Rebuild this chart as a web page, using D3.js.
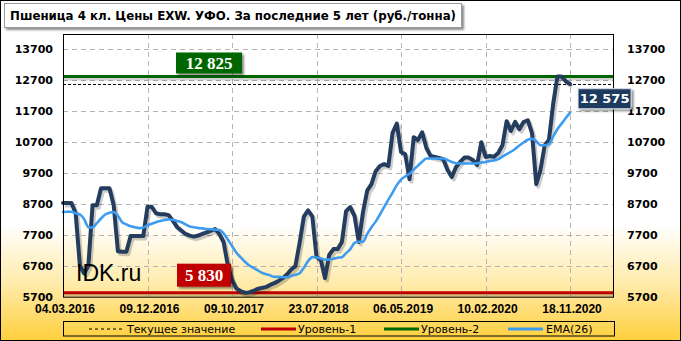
<!DOCTYPE html>
<html>
<head>
<meta charset="utf-8">
<script src="https://cdn.jsdelivr.net/npm/d3@7"></script>
<style>
  body { margin: 0; }
  svg { display: block; }
</style>
</head>
<body>
<svg id="chart" width="681" height="341"></svg>
<script>
// --- data ---
const dateLabels = ["04.03.2016", "09.12.2016", "09.10.2017", "23.07.2018", "06.05.2019", "10.02.2020", "18.11.2020"];
const labelStep = 20; // one date label every 20 points

const price = [
    8730, 8730, 8730, 8400, 6700, 6450, 6700, 8660, 8660, 9210,
    9210, 9210, 8660, 7170, 7155, 7155, 7660, 7660, 7660, 7660,
    8610, 8610, 8400, 8370, 8370, 8340, 8160, 7950, 7840, 7730,
    7675, 7645, 7680, 7730, 7780, 7840, 7890, 7730, 7470, 6725,
    6240, 5970, 5885, 5830, 5840, 5885, 5950, 5980, 6010, 6080,
    6140, 6210, 6300, 6420, 6580, 6690, 7440, 8290, 8490, 8300,
    6990, 6890, 6300, 7050, 7240, 7240, 7470, 8470, 8600, 8310,
    7470, 8440, 9130, 9340, 9760, 9930, 9990, 9930, 11000, 11300,
    10380, 10310, 9500, 10860, 10770, 11020, 10510, 10250, 10220, 10190,
    10150, 9800, 9570, 9890, 10060, 10200, 10200, 10120, 9960, 10700,
    10220, 10250, 10230, 10350, 10600, 11380, 11060, 11360, 11120, 11350,
    11410, 10990, 9340, 9800, 10600, 10770, 11930, 12825, 12825, 12670,
    12575
];

const ema = [
    8440, 8450, 8450, 8400, 8360, 8210, 7950, 7940, 8080, 8230,
    8360, 8420, 8440, 8320, 8110, 8040, 7980, 7950, 7920, 7940,
    8010, 8060, 8110, 8150, 8180, 8200, 8190, 8150, 8110, 8040,
    7970, 7950, 7920, 7910, 7890, 7880, 7870, 7860, 7750, 7550,
    7340, 7130, 6980, 6840, 6720, 6640, 6560, 6480, 6430, 6390,
    6340, 6340, 6330, 6330, 6370, 6410, 6460, 6640, 6850, 6980,
    6970, 6940, 6900, 6900, 6930, 6960, 6980, 7110, 7240, 7440,
    7480, 7480, 7730, 7950, 8130, 8360, 8600, 8840, 9070, 9310,
    9490, 9590, 9680, 9810, 9940, 10070, 10170, 10170, 10170, 10170,
    10170, 10120, 10060, 10020, 10010, 10010, 10010, 10010, 10020, 10040,
    10060, 10090, 10110, 10150, 10230, 10310, 10390, 10480, 10590, 10690,
    10780, 10810, 10730, 10600, 10600, 10640, 10880, 11120, 11300, 11480,
    11655
];

const level1 = 5830;   // Уровень-1
const level2 = 12825;  // Уровень-2
const current = 12575; // Текущее значение
const yTicks = [5700, 6700, 7700, 8700, 9700, 10700, 11700, 12700, 13700];

const fmt = v => d3.format(",")(v).replace(/,/g, " ");

const W = 681, H = 341;
const svg = d3.select("#chart");
const defs = svg.append("defs");

// background gradient (white -> yellow at the bottom)
const bg = defs.append("linearGradient").attr("id", "bg")
    .attr("x1", 0).attr("y1", 0).attr("x2", 0).attr("y2", 1);
bg.append("stop").attr("offset", "0").attr("stop-color", "#ffffff");
bg.append("stop").attr("offset", "0.66").attr("stop-color", "#ffffff");
bg.append("stop").attr("offset", "0.84").attr("stop-color", "#ffeaa6");
bg.append("stop").attr("offset", "1").attr("stop-color", "#ffcf3c");

const shadow = defs.append("filter").attr("id", "shadow")
    .attr("x", "-20%").attr("y", "-20%").attr("width", "150%").attr("height", "160%");
shadow.append("feDropShadow").attr("dx", 2).attr("dy", 2).attr("stdDeviation", 1.2)
    .attr("flood-color", "#000").attr("flood-opacity", 0.45);

svg.append("rect").attr("x", 0.5).attr("y", 0.5).attr("width", W - 1).attr("height", H - 1)
    .attr("fill", "url(#bg)").attr("stroke", "#000");

// plot area
const plotLeft = 63, plotRight = 614, plotTop = 34, plotBottom = 296.7;
const x = d3.scaleLinear().domain([0, 130.4]).range([plotLeft, plotRight]);
const y = d3.scaleLinear().domain([5700, 14200]).range([plotBottom, plotTop]);
const xTicks = dateLabels.map((d, i) => i * labelStep);

// grid
const grid = svg.append("g").attr("stroke", "#b4b4b4").attr("stroke-dasharray", "5,4").attr("stroke-width", 1);
grid.selectAll(".gy").data(yTicks.filter(t => t > 5700)).join("line")
    .attr("x1", plotLeft).attr("x2", plotRight)
    .attr("y1", d => Math.round(y(d)) + 0.5).attr("y2", d => Math.round(y(d)) + 0.5);
grid.selectAll(".gx").data(xTicks.filter(t => t > 0)).join("line")
    .attr("y1", plotTop).attr("y2", plotBottom)
    .attr("x1", d => Math.round(x(d)) + 0.5).attr("x2", d => Math.round(x(d)) + 0.5);

// level lines
function levelLine(val, color, width) {
    svg.append("line").attr("x1", plotLeft).attr("x2", plotRight)
        .attr("y1", y(val) + 2.5).attr("y2", y(val) + 2.5)
        .attr("stroke", "#000").attr("stroke-opacity", 0.18).attr("stroke-width", width);
    svg.append("line").attr("x1", plotLeft).attr("x2", plotRight)
        .attr("y1", y(val)).attr("y2", y(val))
        .attr("stroke", color).attr("stroke-width", width);
}
levelLine(level2, "#006600", 3);
levelLine(level1, "#c00000", 3);

// current value dashed line
svg.append("line").attr("x1", plotLeft).attr("x2", plotRight)
    .attr("y1", Math.round(y(current)) + 0.5).attr("y2", Math.round(y(current)) + 0.5)
    .attr("stroke", "#000").attr("stroke-width", 1).attr("stroke-dasharray", "3,2");

// price line + shadow
const line = d3.line().x((d, i) => x(i)).y(d => y(d));
svg.append("path").datum(price).attr("d", line)
    .attr("transform", "translate(2,2.5)")
    .attr("fill", "none").attr("stroke", "#000").attr("stroke-opacity", 0.2)
    .attr("stroke-width", 4).attr("stroke-linejoin", "round");
svg.append("path").datum(price).attr("d", line)
    .attr("fill", "none").attr("stroke", "#243d5e")
    .attr("stroke-width", 4).attr("stroke-linejoin", "round").attr("stroke-linecap", "round");

// EMA line
svg.append("path").datum(ema).attr("d", line.curve(d3.curveMonotoneX))
    .attr("fill", "none").attr("stroke", "#3d9cf0")
    .attr("stroke-width", 2.6).attr("stroke-linejoin", "round").attr("stroke-linecap", "round");

// frame
svg.append("rect").attr("x", plotLeft + 0.5).attr("y", plotTop + 0.5)
    .attr("width", plotRight - plotLeft - 1).attr("height", plotBottom - plotTop)
    .attr("fill", "none").attr("stroke", "#000");

// axes
const yFont = "'DejaVu Sans', Verdana, sans-serif";
const yLeft = svg.append("g").attr("transform", `translate(${plotLeft},0)`)
    .call(d3.axisLeft(y).tickValues(yTicks).tickSize(0).tickPadding(10).tickFormat(d3.format("d")));
const yRight = svg.append("g").attr("transform", `translate(${plotRight},0)`)
    .call(d3.axisRight(y).tickValues(yTicks).tickSize(0).tickPadding(13).tickFormat(d3.format("d")));
[yLeft, yRight].forEach(g => {
    g.select(".domain").remove();
    g.selectAll("text").attr("font-family", yFont).attr("font-size", 11)
        .attr("font-weight", "bold").attr("fill", "#000");
});

const xAxis = svg.append("g").attr("transform", `translate(1.5,${plotBottom})`)
    .call(d3.axisBottom(x).tickValues(xTicks).tickSize(0).tickPadding(8)
        .tickFormat(d => dateLabels[d / labelStep]));
xAxis.select(".domain").remove();
xAxis.selectAll("text").attr("font-family", "'Liberation Sans', Arial, sans-serif")
    .attr("font-size", 12).attr("font-weight", "bold").attr("fill", "#000");

// value tags
function tag(cx, cy, w, h, fill, text, font, size, bordered) {
    const g = svg.append("g");
    g.append("rect").attr("x", cx).attr("y", cy).attr("width", w).attr("height", h)
        .attr("fill", fill).attr("filter", "url(#shadow)")
        .attr("stroke", bordered ? "#d8dde6" : "none").attr("stroke-width", bordered ? 1 : 0);
    g.append("text").attr("x", cx + w / 2).attr("y", cy + h / 2).attr("dy", "0.36em")
        .attr("text-anchor", "middle").attr("fill", "#fff").attr("font-weight", "bold")
        .attr("font-family", font).attr("font-size", size).text(text);
}
const serif = "'Liberation Serif', 'Times New Roman', serif";
tag(176, y(level2) - 24, 66, 21, "#006600", fmt(level2), serif, 17);
tag(177, y(level1) - 29, 54, 23, "#c00000", fmt(level1), serif, 17);
tag(x(price.length - 1) + 8, y(current) + 4.5, 53, 20, "#1f3a5f", fmt(current), yFont, 13, true);

// watermark
svg.append("text").attr("x", 76).attr("y", 281)
    .attr("font-family", "'Liberation Sans', Arial, sans-serif").attr("font-size", 23)
    .attr("fill", "#000").text("IDK.ru");

// title box
svg.append("rect").attr("x", 4.5).attr("y", 3.5).attr("width", 457).attr("height", 24)
    .attr("fill", "#fff").attr("stroke", "#9a9a9a").attr("filter", "url(#shadow)");
svg.append("text").attr("x", 10).attr("y", 20)
    .attr("font-family", yFont).attr("font-size", 12).attr("font-weight", "bold")
    .attr("textLength", 446).attr("lengthAdjust", "spacingAndGlyphs")
    .attr("fill", "#000")
    .text("Пшеница  4 кл. Цены EXW. УФО. За последние 5 лет (руб./тонна)");

// legend
const legend = svg.append("g");
legend.append("rect").attr("x", 63.5).attr("y", 321.5).attr("width", 551).attr("height", 14.5)
    .attr("fill", "none").attr("stroke", "#000");
const legendItems = [
    { label: "Текущее значение", color: "#000", dash: "3,3", width: 1, x0: 89, x1: 122, tx: 127 },
    { label: "Уровень-1", color: "#c00000", dash: null, width: 3, x0: 261, x1: 296, tx: 298 },
    { label: "Уровень-2", color: "#006600", dash: null, width: 3, x0: 384, x1: 419, tx: 421 },
    { label: "EMA(26)", color: "#3d9cf0", dash: null, width: 3, x0: 508, x1: 543, tx: 546 }
];
legendItems.forEach(it => {
    legend.append("line").attr("x1", it.x0).attr("x2", it.x1).attr("y1", 329).attr("y2", 329)
        .attr("stroke", it.color).attr("stroke-width", it.width)
        .attr("stroke-dasharray", it.dash);
    legend.append("text").attr("x", it.tx).attr("y", 329).attr("dy", "0.36em")
        .attr("font-family", yFont).attr("font-size", 11).attr("fill", "#000").text(it.label);
});
</script>
</body>
</html>
